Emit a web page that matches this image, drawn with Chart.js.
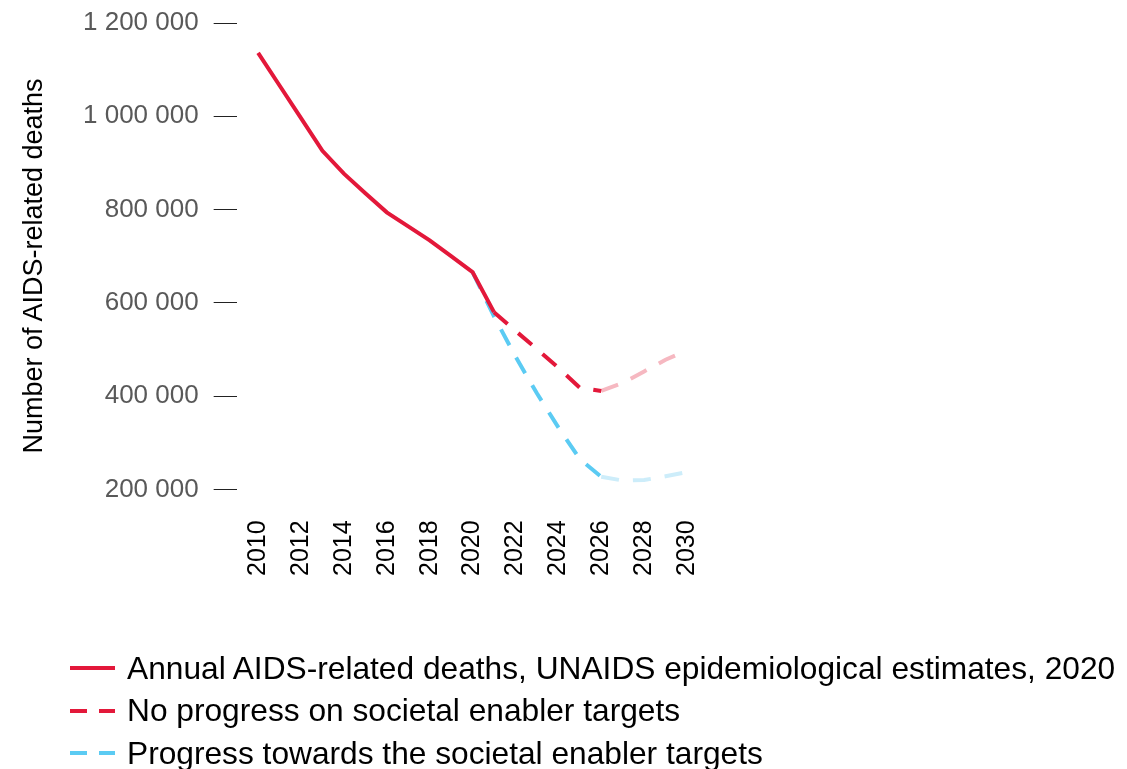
<!DOCTYPE html>
<html>
<head>
<meta charset="utf-8">
<script src="https://cdn.jsdelivr.net/npm/chart.js@4.4.0/dist/chart.umd.min.js"></script>
<style>
  body { margin: 0; background: #fff; font-family: 'Liberation Sans', Arial, sans-serif; }
  #wrap { position: relative; width: 1127px; height: 769px; overflow: hidden; }
  #yTitle {
    position: absolute; left: 33px; top: 266px; width: 440px; margin-left: -220px;
    text-align: center; font-size: 27px; line-height: 30px; color: #000;
    transform: translateY(-15px) rotate(-90deg); transform-origin: 50% 50%; white-space: nowrap;
  }
  .legend { position: absolute; left: 70px; top: 647px; }
  .row { height: 42.5px; display: flex; align-items: center; font-size: 31.7px; color: #000; white-space: nowrap; }
  .sample { width: 45px; height: 4px; margin-right: 12px; }
</style>
</head>
<body>
<div id="wrap">
  <canvas id="deathsChart" width="1127" height="769"></canvas>
  <div id="yTitle">Number of AIDS-related deaths</div>
  <div class="legend">
    <div class="row"><div class="sample" style="background:#E3183A"></div>Annual AIDS-related deaths, UNAIDS epidemiological estimates, 2020</div>
    <div class="row"><div class="sample" style="background:linear-gradient(90deg,#E3183A 0 17px,transparent 17px 29px,#E3183A 29px 45px)"></div>No progress on societal enabler targets</div>
    <div class="row"><div class="sample" style="background:linear-gradient(90deg,#5BCBF3 0 17px,transparent 17px 29px,#5BCBF3 29px 45px)"></div>Progress towards the societal enabler targets</div>
  </div>
</div>
<script>
// years on the x axis
var years = [2010, 2011, 2012, 2013, 2014, 2015, 2016, 2017, 2018, 2019, 2020,
             2021, 2022, 2023, 2024, 2025, 2026, 2027, 2028, 2029, 2030];
var tickYears = [2010, 2012, 2014, 2016, 2018, 2020, 2022, 2024, 2026, 2028, 2030];
var yTicks = [200000, 400000, 600000, 800000, 1000000, 1200000];

// estimates 2010-2021
var estimates = [1136000, 1066000, 996000, 926000, 877000, 835000, 794000, 764000, 734000, 700000, 666000,
                 580000, null, null, null, null, null, null, null, null, null];
// no progress scenario (dark part to 2026, faded after)
var noProgress = [null, null, null, null, null, null, null, null, null, null, null,
                  580000, 540000, 501000, 461000, 418000, 411000, null, null, null, null];
var noProgressLate = [null, null, null, null, null, null, null, null, null, null, null,
                      null, null, null, null, null, 411000, 428000, 453000, 478000, 498000];
// progress scenario
var progress = [null, null, null, null, null, null, null, null, null, null, 666000,
                571000, 485000, 406000, 333000, 265000, 227000, null, null, null, null];
var progressLate = [null, null, null, null, null, null, null, null, null, null, null,
                    null, null, null, null, null, 227000, 219000, 220000, 228000, 237000];

function toPoints(values) {
    var pts = [];
    values.forEach(function(v, i) {
        if (v !== null) pts.push({ x: years[i], y: v });
    });
    return pts;
}

function spaced(v) {
    return String(v).replace(/\B(?=(\d{3})+(?!\d))/g, ' ');
}

var font = "'Liberation Sans', Arial, sans-serif";

function line(values, color, dash) {
    return {
        data: toPoints(values),
        borderColor: color,
        borderWidth: 4,
        borderDash: dash,
        pointRadius: 0,
        tension: 0,
        fill: false,
        clip: false
    };
}

var ctx = document.getElementById('deathsChart').getContext('2d');
var deathsChart = new Chart(ctx, {
    type: 'line',
    data: {
        // first dataset ends up on top
        datasets: [
            line(estimates, '#E3183A', []),
            line(noProgress, '#E3183A', [18, 14]),
            line(progress, '#5BCBF3', [18, 14]),
            line(noProgressLate, '#F6B8C1', [18, 14]),
            line(progressLate, '#CDEDFA', [18, 14])
        ]
    },
    options: {
        responsive: false,
        animation: false,
        layout: { padding: { left: 68, right: 440, top: 23, bottom: 162 } },
        plugins: { legend: { display: false }, tooltip: { enabled: false } },
        scales: {
            x: {
                type: 'linear',
                min: 2009,
                max: 2030,
                afterBuildTicks: function(scale) {
                    scale.ticks = tickYears.map(function(v) { return { value: v }; });
                },
                grid: { display: false, drawTicks: false },
                border: { display: false },
                ticks: {
                    minRotation: 90, maxRotation: 90, padding: 31,
                    color: '#000', font: { family: font, size: 25 },
                    callback: function(v) { return String(v); }
                }
            },
            y: {
                min: 200000,
                max: 1200000,
                afterBuildTicks: function(scale) {
                    scale.ticks = yTicks.map(function(v) { return { value: v }; });
                },
                afterFit: function(scale) {
                    // keep the label padding from pushing the plot down
                    scale.paddingTop = 10;
                },
                grid: { drawOnChartArea: false, drawTicks: true, tickLength: 23, color: '#222', lineWidth: 1 },
                border: { display: false },
                ticks: {
                    padding: 15, color: '#595959', font: { family: font, size: 26 },
                    callback: function(v) { return spaced(v); }
                }
            }
        }
    }
});
</script>
</body>
</html>
